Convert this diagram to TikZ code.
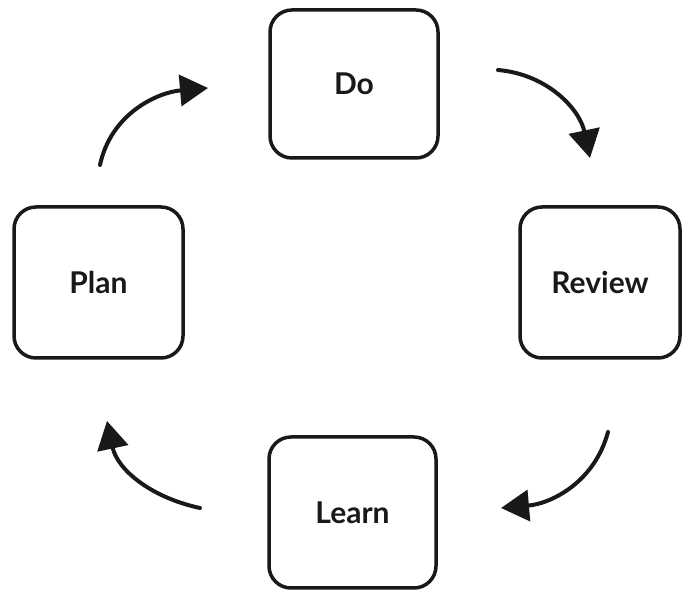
\documentclass[tikz,border=0pt]{standalone}
\usepackage{fontspec}
\setmainfont{Lato}
\usetikzlibrary{arrows.meta}
\tikzset{
  stagebox/.style={draw=black!90, line width=3.5pt, rounded corners=22pt, fill=white,
    inner sep=0pt, font=\fontsize{30}{36}\selectfont\bfseries, text=black!90},
  cyclearrow/.style={draw=black!90, line width=4pt, line cap=round,
    -{Triangle[length=28pt,width=31pt]}},
}
\begin{document}
\begin{tikzpicture}[x=1pt,y=1pt]
\useasboundingbox (0,0) rectangle (683,591);
\node[stagebox, minimum width=168pt, minimum height=148pt] (do) at (354,507) {Do};
\node[stagebox, minimum width=169pt, minimum height=151pt] (plan) at (98.5,308.5) {Plan};
\node[stagebox, minimum width=160pt, minimum height=151pt] (review) at (600,308.5) {Review};
\node[stagebox, minimum width=167pt, minimum height=151pt] (learn) at (352.5,78.5) {Learn};
\coordinate (a1s) at (100,426);
\coordinate (a1e) at (208,503);
\coordinate (a2s) at (498,521);
\coordinate (a2e) at (590,433);
\coordinate (a3s) at (608,159);
\coordinate (a3e) at (501,83);
\coordinate (a4s) at (200,83);
\coordinate (a4e) at (107,170);
\draw[cyclearrow] (a1s) to[out=78,in=185] (a1e);
\draw[cyclearrow] (a2s) to[out=-5,in=102] (a2e);
\draw[cyclearrow] (a3s) to[out=-105,in=5] (a3e);
\draw[cyclearrow] (a4s) to[out=168,in=-78] (a4e);
\end{tikzpicture}
\end{document}
